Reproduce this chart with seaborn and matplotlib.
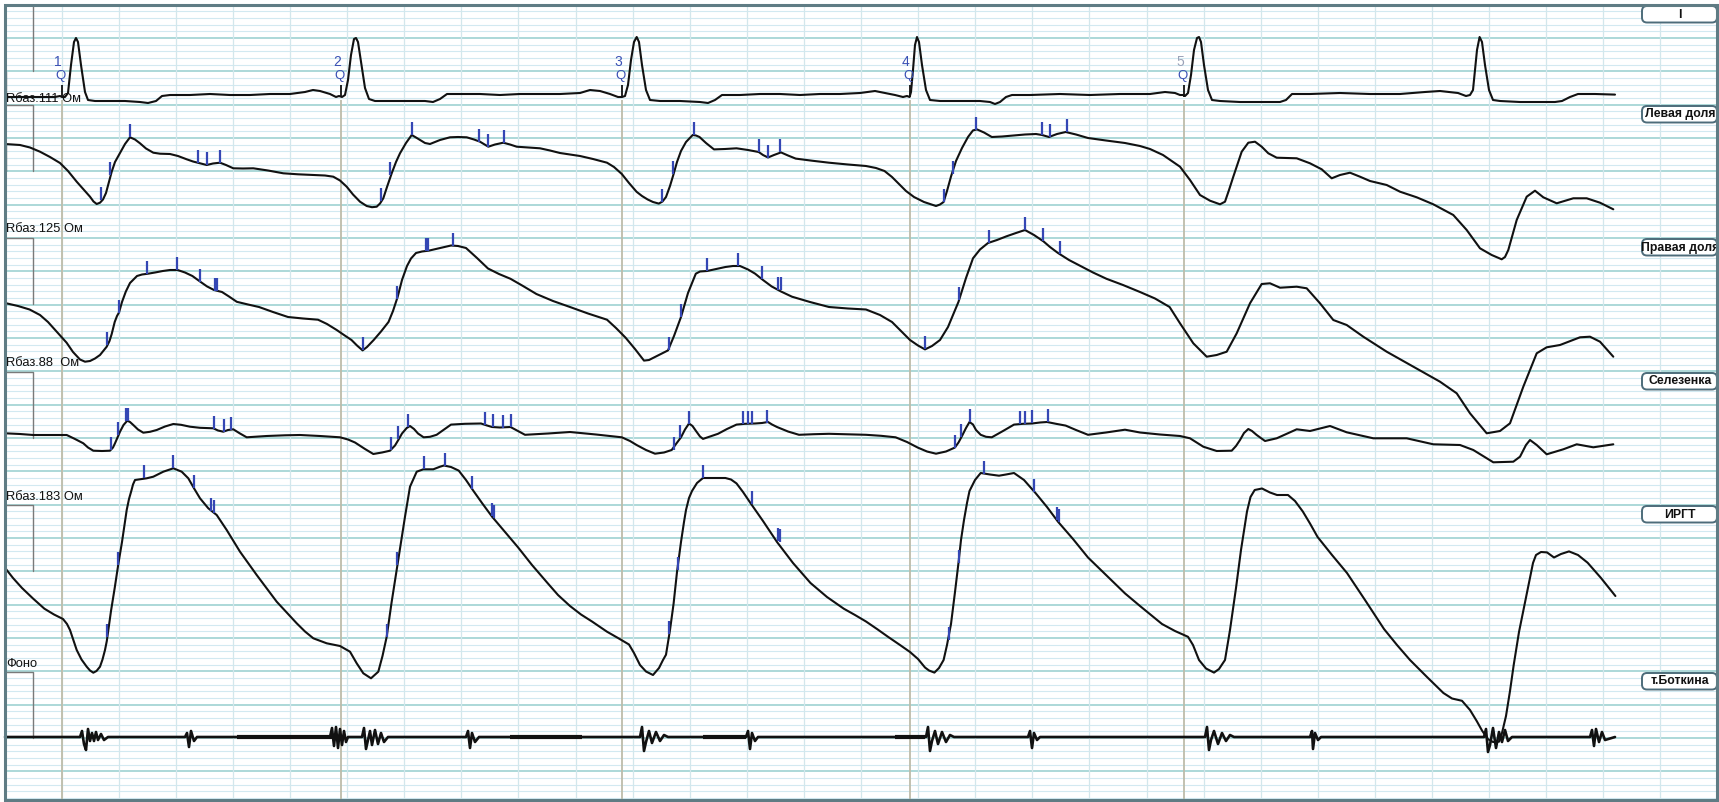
import matplotlib
matplotlib.use("Agg")
import matplotlib.pyplot as plt
import seaborn as sns
from matplotlib.patches import FancyBboxPatch, Rectangle

# ---------------- data (pixel units of the record) -------------
channel_names = ["I", "Левая доля", "Правая доля", "Селезенка", "ИРГТ", "т.Боткина"]
rbase_labels = ["Rбаз.111 Ом", "Rбаз.125 Ом", "Rбаз.88  Ом", "Rбаз.183 Ом", "Фоно"]
beat_numbers = ["1", "2", "3", "4", "5"]
q_positions = [61.7, 341.0, 621.8, 909.6, 1184.0]

ecg_x = [5, 20, 40, 55, 60, 62, 65, 68, 71, 74, 76, 78, 81, 85, 88, 95, 110, 125, 140, 148, 156, 162, 170, 190,
         210, 230, 250, 270, 290, 305, 313, 320, 330, 336, 339, 342, 345, 348, 351, 354, 356, 358, 361, 365, 369,
         375, 390, 410, 425, 433, 440, 447, 460, 480, 500, 520, 540, 560, 580, 590, 600, 610, 618, 622, 625, 628,
         631, 634, 636.7, 639, 642, 646, 650, 660, 680, 700, 708, 715, 722, 740, 760, 780, 800, 820, 840, 860, 875,
         885, 895, 903, 907, 909.6, 911, 913, 915, 917, 919, 922, 926, 930, 940, 960, 980, 990, 995, 1000, 1006,
         1012, 1030, 1060, 1090, 1120, 1150, 1165, 1175, 1180, 1183, 1185, 1188, 1191, 1194, 1197, 1199, 1201,
         1204, 1208, 1212, 1220, 1240, 1260, 1280, 1286, 1292, 1310, 1340, 1370, 1400, 1425, 1440, 1458, 1466,
         1470, 1473, 1475, 1477, 1479.6, 1482, 1485, 1489, 1493, 1500, 1520, 1540, 1555, 1562, 1570, 1578, 1595,
         1615]
ecg_y = [97, 97, 97, 97, 96, 97, 97, 93, 65, 42, 38, 42, 65, 92, 100, 101, 101, 101, 102, 103, 101, 96, 95, 95,
         94, 95, 95, 94, 94, 92, 90, 91, 94, 97, 96, 97, 95, 80, 55, 39, 38, 42, 62, 88, 99,
         101, 101, 101, 101, 102, 99, 94, 94, 94, 95, 94, 94, 94, 93, 90, 91, 94, 97, 97, 96, 85,
         60, 42, 37, 42, 65, 90, 100, 101, 101, 102, 103, 100, 95, 95, 94, 94, 95, 94, 94, 93, 91,
         93, 95, 97, 96, 97, 92, 70, 45, 37, 42, 65, 90, 100, 101, 101, 101, 102, 104, 102, 97,
         95, 95, 94, 95, 94, 94, 92, 93, 95, 95, 96, 93, 75, 50, 38, 37, 42,
         65, 90, 100, 101, 102, 102, 102, 100, 94, 94, 93, 94, 94, 92, 91, 93, 96,
         95, 90, 70, 50, 37, 42, 65, 90, 100, 101, 102, 102, 102, 101, 97, 94, 94,
         94.6]

left_pts = [(5, 144), (20, 145), (30, 147.5), (40, 151.7), (50, 157), (60, 163), (68, 171), (76.7, 181.7), (84, 190),
            (90, 196.7), (93.5, 201.5), (96.7, 204), (100, 202.7), (103, 199.5), (106, 193), (109, 182),
            (111.7, 171.7), (115, 162), (120, 153), (125, 144), (130, 137.3), (135, 139.5), (140, 143.3),
            (146, 148.5), (153.3, 152.7), (160, 153.7), (170, 154), (178, 156), (186.7, 159.3), (193, 161.5),
            (200, 163.3), (206.7, 165), (213, 163.5), (220, 162.7), (226, 165), (233.3, 168.3), (243, 168.5),
            (253.3, 168.3), (268, 170.5), (283.3, 173.3), (298, 174.3), (313.3, 175), (325, 175.5), (333.3, 176.7),
            (340, 180.5), (346.7, 186.7), (353, 194.5), (360, 201.7), (366.7, 206), (372, 207.2), (376.7, 206.7),
            (380, 203.5), (383.3, 198.3), (387, 187), (391.7, 173.3), (396, 162), (400, 153.3), (406, 143),
            (411.7, 135), (416, 137.5), (420, 140), (425, 143), (430, 144), (435, 142), (440, 140), (450, 137.3),
            (458, 137), (466.7, 137.3), (474, 139.5), (480, 141.7), (488.3, 146.7), (495, 144.5), (503.3, 142.7),
            (510, 144.5), (516.7, 146.7), (528, 147.5), (540, 148.3), (550, 150.5), (560, 153), (570, 154.5),
            (580, 156), (593, 159), (607, 162.7), (614, 167), (621.8, 174), (629, 183), (636.6, 191.8), (642, 196),
            (647.7, 199.5), (653, 202), (658.8, 203.6), (662.5, 201.5), (666, 197), (670, 186), (673.6, 174),
            (677, 162), (681, 151), (686, 142), (692.7, 135), (696, 135.5), (699.5, 137), (706, 143), (714, 149.4),
            (725, 149), (736.5, 148.3), (748, 150), (758.7, 152), (763, 155), (768, 157.5), (774, 155),
            (781, 152.4), (788, 155.5), (795.7, 158.6), (812, 160.7), (829, 162.7), (848, 164.5), (866, 166),
            (876, 168), (884.5, 171), (892, 177), (899, 184), (906, 191), (914, 197), (924, 202), (936, 206),
            (940, 204.5), (943.6, 202), (947, 191), (951, 176.5), (956, 161), (962, 148), (968, 137), (973, 130.4),
            (977, 129.4), (984, 132.5), (991.8, 137), (1002, 136.5), (1014, 135.5), (1025, 134.5), (1036, 134),
            (1042, 135), (1049, 137), (1057, 134), (1065.7, 132), (1076, 134.5), (1088, 138), (1106, 140.5),
            (1125, 143), (1140, 146), (1150, 149), (1163, 155), (1180, 166.7), (1190, 180), (1200, 195),
            (1210, 200.7), (1220, 204.3), (1225, 201.7), (1229, 190), (1233.3, 176.7), (1241.7, 151.7),
            (1248.3, 142.7), (1255, 141.7), (1261.7, 146.7), (1268.3, 153.3), (1276.7, 157.7), (1296.7, 158.3),
            (1310, 163.3), (1321.7, 169.3), (1331.7, 178.3), (1340, 175), (1350, 172.7), (1360, 176.7),
            (1370, 181), (1386.7, 185), (1400, 191.7), (1416.7, 197.3), (1433.3, 204.3), (1453.3, 215),
            (1466.7, 230), (1480, 248.3), (1491.7, 255), (1501.7, 259.3), (1505, 257), (1508.3, 250),
            (1516.7, 220), (1526.7, 196.7), (1535, 190.7), (1543.3, 197.3), (1556.7, 203.3), (1573.3, 198.3),
            (1586.7, 198.3), (1600, 202.7), (1613.3, 209.3)]

right_pts = [(5, 303), (18, 306), (29.6, 309.5), (40, 315), (48, 322), (57, 332), (66.6, 342.7), (73, 352),
             (80, 359.5), (85, 361.7), (90, 361), (95, 358.5), (100, 355), (104, 350), (106.7, 346.7),
             (109.5, 341), (111.7, 334), (114.7, 322), (117, 316), (119, 312.5), (122, 302), (125.8, 291.6),
             (130, 283), (137, 276), (142, 274.5), (148, 273.7), (155, 272.5), (162.8, 271), (170, 270),
             (177.6, 270), (185, 272.5), (192.4, 276), (200, 281.5), (207, 286.4), (214, 290), (222, 292),
             (229, 296.5), (236.8, 301.8), (248, 304.5), (259, 307), (273, 312), (288, 317), (303, 318.5),
             (318, 319.7), (327, 324), (336.7, 330), (344, 335), (351.5, 340), (357, 345.5), (362.6, 350.4),
             (367, 347), (373.7, 340), (381, 331.5), (388.5, 322), (393, 311), (397.7, 296.7), (402, 280),
             (407, 266), (411, 258.5), (416, 253), (422, 251.5), (429, 250.6), (440, 248), (451, 245.5),
             (458, 246), (466, 248), (477, 258), (488, 268.5), (499, 274), (510.5, 278.8), (523, 286),
             (536.4, 294), (553, 301), (570, 307), (588, 313.5), (607, 319.7), (616, 328), (625.5, 337.6),
             (635, 349), (644, 360.6), (649, 360), (655, 357), (661, 354), (668, 350.4), (674, 336), (681, 317),
             (688, 293), (695.8, 273.7), (700, 271.5), (707, 271), (716, 269), (725.4, 267), (733, 266), (740, 266),
             (748, 269.5), (755, 273.6), (763, 280), (771.6, 286.4), (781, 291.5), (792, 296.7), (810, 302),
             (829, 307), (848, 308.5), (866, 309.5), (880, 315), (892, 322), (901, 331), (910, 340), (918, 345.5),
             (925, 349.4), (932, 346), (940, 340), (948, 327), (958.5, 301.8), (966, 278), (973, 258.3),
             (980, 249.5), (988, 243), (997, 240), (1006.5, 236.3), (1016, 233), (1025, 230), (1034, 235),
             (1043.5, 241.4), (1050, 247), (1058, 253), (1069, 260), (1080.5, 266), (1093, 272.5),
             (1106.5, 278.8), (1123, 285), (1140, 292), (1155, 298.5), (1169.6, 307), (1180, 323.3),
             (1193.3, 343.3), (1206.7, 356.7), (1216.7, 355), (1226.7, 351.7), (1236.7, 333.3), (1250, 303.3),
             (1261.7, 284), (1270, 283.3), (1280, 287.7), (1296.7, 286.7), (1306.7, 288.3), (1320, 303.3),
             (1333.3, 320), (1346.7, 325), (1363.3, 336.7), (1386.7, 351.7), (1413.3, 366.7), (1440, 381.7),
             (1456.7, 393.3), (1470, 413.3), (1486.7, 433.3), (1500, 431), (1510, 423.3), (1523.3, 386.7),
             (1536.7, 353.3), (1546.7, 347.3), (1560, 345), (1580, 337.3), (1590, 336.7), (1600, 341.7),
             (1613.3, 356.7)]

spleen_pts = [(5, 433.3), (20, 434), (33.3, 435), (50, 435), (66.7, 435), (75, 439), (83.3, 443.3), (88, 447.5),
              (93.3, 450.7), (102, 451), (110, 450.7), (113, 447.5), (115, 443.3), (117.5, 437.5), (120, 431.7),
              (123.5, 425), (127.3, 420.7), (130, 422), (133.3, 425), (138, 429.5), (143.3, 432.7), (150, 431.8),
              (156.7, 430), (165, 426.5), (173.3, 424), (181, 424.8), (190, 426.7), (200, 427.8), (213.3, 428.3),
              (218, 430.5), (223.3, 431.7), (228, 430), (233.3, 429.3), (240, 433.5), (246.7, 437.3),
              (266.7, 436), (285, 435.3), (300, 435), (320, 436), (340, 437.3), (348, 439.5), (355, 442.5),
              (365, 449), (373.3, 454), (382, 452.5), (390, 450.7), (395, 445.5), (398.3, 440), (402, 433.5),
              (406.7, 428), (410, 426), (414, 429), (418, 433.5), (423.6, 437.3), (430, 436.8), (436.6, 434.8),
              (444, 429.5), (451, 424.6), (465, 423.8), (481, 423.5), (487, 425.5), (492, 427), (500, 427.5),
              (510.5, 427), (518, 431), (525, 434.8), (548, 433.5), (570, 432), (596, 434.5), (621.8, 437.3),
              (630, 441), (636.6, 445), (646, 450), (655, 453.7), (664, 452.5), (671.7, 450), (676, 444),
              (681, 437.3), (685, 429.5), (689, 423.5), (692.5, 426), (696, 431), (700, 436.5), (703, 438.9),
              (710, 436.5), (718, 433.8), (727, 429), (736.5, 424.6), (745, 423.8), (755, 423.5), (762, 423),
              (768, 422), (772, 424.5), (777, 427), (788, 431.5), (799, 434.8), (814, 434.2), (829, 433.8),
              (848, 434.3), (866, 434.8), (881, 435.8), (895.6, 437.3), (907, 442), (917.8, 447.6), (927, 451.5),
              (936, 453.7), (946, 451.5), (954.8, 447.6), (958.5, 442.5), (962, 436), (966, 428), (969.5, 422),
              (973, 424.5), (976, 430), (980.7, 434.8), (986, 436.8), (991.8, 437.3), (1003, 431), (1014, 424.6),
              (1023, 423.8), (1032, 423.5), (1040, 422.5), (1047, 422), (1056, 423.8), (1065.7, 425.6), (1076, 430),
              (1088, 434.8), (1106, 432.5), (1125, 429.7), (1140, 432.5), (1160, 434.5), (1180, 436),
              (1190, 438.3), (1203.3, 446.7), (1216.7, 451), (1231.7, 450.7), (1236, 446), (1240, 440),
              (1244, 433), (1248.3, 429), (1252, 431), (1256.7, 435), (1265, 441), (1276.7, 438.3),
              (1296.7, 429.3), (1310, 431), (1330, 426), (1346.7, 432.3), (1373.3, 438.3), (1406.7, 438.3),
              (1433.3, 444.3), (1460, 445), (1473.3, 450), (1493.3, 462.3), (1513.3, 461.7), (1520, 456.7),
              (1526, 445), (1530, 440), (1536.7, 445), (1546.7, 454.3), (1563.3, 449.3), (1576.7, 444.3),
              (1593.3, 447.3), (1613.3, 444.3)]

irgt_pts = [(5, 567.8), (13, 578), (22, 588), (33, 598.5), (44.4, 608.7), (54, 614.5), (63, 619), (67, 624),
            (70, 630), (73, 639), (76.7, 650), (81.5, 659.5), (86.7, 666.7), (90, 670.5), (93.3, 672.7),
            (96.5, 671), (100, 666.7), (102.5, 659.5), (105, 650), (106.8, 641), (108.3, 630), (111, 611),
            (114.7, 588), (118.5, 563), (122, 542), (124.5, 525), (126.7, 510), (129, 499), (131.3, 491),
            (133, 484.5), (135, 480), (140, 479.3), (146.7, 478.3), (153.3, 476.7), (163.3, 471.7), (173.3, 468.3),
            (181.7, 471.7), (188.3, 478.3), (194, 488.3), (200, 498.3), (208.3, 508.3), (216.7, 515),
            (226.7, 530), (240, 551.7), (256.7, 575), (276.7, 601.7), (296.7, 623.3), (305, 631.5),
            (313.3, 638.3), (326.7, 643.3), (340, 646), (350, 651.7), (356.7, 663.3), (363.3, 673.3), (371, 678.3),
            (378.3, 671.7), (382.5, 656), (386.7, 636.7), (391.5, 603), (396.7, 570), (401, 542), (405, 516.7),
            (410, 486.7), (416.7, 471.7), (423.3, 469.3), (433.3, 469.3), (440, 466.7), (444, 465.5), (451, 467),
            (458.7, 470.6), (466, 480), (473.5, 491), (482, 503), (492, 516.6), (505, 532), (518, 547.3),
            (532, 565), (547.5, 583), (558, 595), (570, 606), (581, 614.5), (592, 621.5), (600, 627),
            (607, 631.7), (618, 638), (629, 644.5), (634, 653), (640, 665), (646, 671.5), (653, 675), (659, 668),
            (663, 660), (666, 654.7), (670, 630), (673.6, 603.6), (677, 572), (681, 542), (684, 522), (686, 510),
            (689, 498), (692, 491), (697, 483), (703, 478), (714, 478), (725.4, 478), (731, 479.5),
            (736.5, 483.4), (743, 492), (751, 503.8), (763, 521), (777, 542), (793, 563), (810.5, 583),
            (827, 597), (843.8, 608.7), (855, 615), (866, 621.5), (877, 629), (888, 636.8), (900, 645),
            (910, 652), (918, 659), (925, 667.5), (929, 670.5), (934.4, 672.6), (939, 668), (943.6, 660),
            (947, 645), (951, 624), (955, 592), (958.5, 562.7), (961, 540), (964, 520), (967, 503), (969.5, 491),
            (975, 480), (980.7, 473), (990, 474.5), (999, 475.7), (1006, 474.5), (1014, 473), (1024, 480),
            (1036, 493.6), (1047, 507), (1058, 521.7), (1073, 539), (1088, 557.5), (1106, 575), (1125, 593.4),
            (1140, 606), (1151, 615), (1162, 624), (1175, 631), (1188, 636.8), (1193, 645), (1199, 660),
            (1206, 668.5), (1214, 672.6), (1219, 669), (1225, 660), (1230, 630), (1236, 588), (1241, 550),
            (1247, 511.5), (1250.5, 497), (1254.7, 490), (1262, 488.5), (1270, 492.5), (1277, 495), (1288, 495),
            (1295, 501), (1302.8, 511.5), (1310, 523.5), (1317.6, 537), (1332, 555), (1347, 573), (1365, 600),
            (1384, 629), (1397, 645), (1410, 660), (1427, 677), (1443.4, 693), (1452, 698.5), (1462, 700.8),
            (1470, 710), (1476.7, 721), (1482, 730.5), (1487.8, 739), (1493, 742), (1499, 741.7), (1502, 733),
            (1506, 716), (1510, 691), (1513.7, 665), (1519, 632), (1524.8, 603.6), (1530, 578), (1533, 563),
            (1536, 555), (1541, 552), (1547, 552.4), (1554, 557.5), (1561, 554), (1569, 551.4), (1578, 555),
            (1587.6, 562.7), (1601, 578), (1615.4, 596)]

fono_x = [5, 80, 82, 84, 86, 88, 90, 92, 94, 96, 98, 101, 104, 108, 185, 187, 189, 191, 194, 197,
          330, 332, 334, 336, 338, 340, 342, 344, 346, 348,
          362, 364, 366, 368, 370, 372, 375, 378, 381, 384, 388,
          466, 468, 470, 472, 475, 479,
          640, 642, 644, 646, 649, 652, 656, 660, 664, 668,
          746, 748, 750, 752, 755, 758,
          926, 928, 930, 932, 935, 938, 942, 946, 950, 954,
          1028, 1030, 1032, 1034, 1037, 1040,
          1205, 1207, 1209, 1211, 1214, 1218, 1222, 1226, 1230, 1234,
          1310, 1312, 1313, 1315, 1318, 1321,
          1484, 1486, 1488, 1490, 1493, 1496, 1499, 1502, 1505, 1508, 1512,
          1590, 1592, 1594, 1596, 1599, 1602, 1605, 1615]
fono_y = [737, 737, 731, 744, 750, 729, 741, 733, 741, 732, 740, 734, 740, 737, 737, 733, 747, 731, 741, 737,
          737, 728, 746, 727, 748, 729, 745, 731, 742, 737,
          737, 728, 749, 740, 731, 745, 730, 744, 733, 742, 737,
          737, 731, 748, 733, 742, 737,
          737, 727, 751, 742, 731, 743, 732, 741, 735, 737,
          737, 731, 749, 733, 741, 737,
          737, 727, 751, 741, 731, 744, 732, 742, 735, 737,
          737, 731, 748, 733, 740, 737,
          737, 727, 750, 740, 731, 744, 733, 741, 735, 737,
          737, 731, 749, 733, 740, 737,
          737, 729, 752, 745, 728, 748, 732, 742, 730, 741, 737,
          737, 730, 746, 729, 742, 732, 740, 737]
fono_noise_start = [237, 510, 703, 895]
fono_noise_end = [333, 582, 746, 925]

left_ticks_x = [100.7, 110, 130, 198, 207, 220, 380.8, 390, 411.7, 479, 488, 504, 661.7, 672.8, 694, 759.4, 768, 780,
                944.4, 953, 975.8, 1041.7, 1049.8, 1066.5]
left_ticks_y = [200, 175, 137, 163, 165, 162.7, 201, 175, 135, 142, 146.5, 142.7, 201.5, 174, 135, 152, 157.5,
                152.4, 202, 174, 130, 134.5, 137, 132]
right_ticks_x = [107.3, 119, 146.9, 176.8, 199.8, 214.5, 217, 362.6, 396.6, 425.5, 428, 453.2, 669, 681, 707, 737.6,
                 761.6, 778, 780.5, 925, 959, 988.8, 1025, 1042.8, 1060]
right_ticks_y = [345, 312.5, 273.7, 270, 281.5, 290.5, 290.5, 350.4, 299, 250.6, 250.6, 245.5, 350.4, 317, 271, 266,
                 279, 289.5, 289.5, 349.4, 300, 243, 230, 241, 254]
spleen_ticks_x = [111, 118.3, 126, 128.3, 214.3, 224.3, 231, 391.4, 397.7, 407.7, 484.6, 493, 503, 511.3, 673.6,
                  679.5, 689, 743, 747.6, 752.4, 766.8, 954.8, 961.4, 970.3, 1019.5, 1025, 1031.7, 1048]
spleen_ticks_y = [450, 435, 420.7, 420.7, 429, 431.7, 429.5, 450, 439, 427, 424.5, 427, 427.5, 427, 450, 438,
                  423.5, 424, 423.8, 423.6, 422.5, 447.6, 437, 422, 424, 423.7, 423.4, 422]
irgt_ticks_x = [107.3, 117.6, 144, 173.3, 194, 211, 213.5, 386.6, 397, 423.6, 445, 471.7, 491.5, 494, 669, 678.4, 703,
                752.4, 777.5, 780, 948.5, 958.5, 984.4, 1034.3, 1056.5, 1059]
irgt_ticks_y = [637, 565, 478.3, 468.3, 488.3, 511, 512.5, 637, 565, 469.3, 465.5, 488.5, 516, 517.5, 634.3, 570,
                478, 503.8, 541, 542, 640, 562.7, 474, 491.5, 519.5, 521.5]

# ---------------- figure ----------------
sns.set_style("white")
plt.rcParams["font.family"] = ["Liberation Sans", "DejaVu Sans"]

W, H = 1719, 802
fig = plt.figure(figsize=(W / 100, H / 100), dpi=100)
ax = fig.add_axes([0, 0, 1, 1])
ax.set_xlim(0, W)
ax.set_ylim(H, 0)
ax.axis("off")

left, right, top, bottom = 4.5, 1717, 4.5, 800
# grid
step_y = 100 / 15.0
k = 0
y = top
while y < bottom:
    thick = (k % 5 == 0)
    ax.hlines(y, left, right, colors="#a6d6d6" if thick else "#d2e9f1",
              linewidth=1.3 if thick else 0.8, zorder=1)
    k += 1
    y = top + k * step_y
x = left + 57.1
while x < right:
    ax.vlines(x, top, bottom, colors="#d3e7ec", linewidth=0.9, zorder=1)
    x += 57.1

# Q lines
for q in q_positions:
    ax.vlines(q, 100, bottom, colors="#bdbcaa", linewidth=1.3, zorder=2)
    ax.vlines(q, 85, 97, colors="#111111", linewidth=1.3, zorder=4)

# left calibration boxes
box_tops = [5, 105, 238, 372, 505, 672]
for t in box_tops:
    ax.plot([left, 33, 33], [t, t, t + 66], color="#7a7a7a", linewidth=1.0, zorder=2)
ax.vlines(5.5, 72, 97, colors="#111111", linewidth=1.6, zorder=4)
ax.vlines(5.5, 145, 172, colors="#111111", linewidth=1.6, zorder=4)

# traces
line_kw = dict(sort=False, estimator=None, color="#111111", linewidth=1.5, ax=ax, zorder=5, legend=False)
sns.lineplot(x=ecg_x, y=ecg_y, **line_kw)
for pts in (left_pts, right_pts, spleen_pts, irgt_pts):
    sns.lineplot(x=[p[0] for p in pts], y=[p[1] for p in pts], **line_kw)
fono_kw = dict(line_kw)
fono_kw["linewidth"] = 1.9
sns.lineplot(x=fono_x, y=fono_y, **fono_kw)
for a, b in zip(fono_noise_start, fono_noise_end):
    ax.hlines(737, a, b, colors="#111111", linewidth=3.0, zorder=5)

for line in ax.lines:
    line.set_solid_joinstyle("round")
    line.set_solid_capstyle("round")

# blue markers
tick_h = 13
for tx, ty in [(left_ticks_x, left_ticks_y), (right_ticks_x, right_ticks_y),
               (spleen_ticks_x, spleen_ticks_y), (irgt_ticks_x, irgt_ticks_y)]:
    ax.vlines(tx, [v - tick_h for v in ty], ty, colors="#3446b4", linewidth=1.6, zorder=6)

# beat labels
for q, lab in zip(q_positions, beat_numbers):
    col = "#9aa2b8" if lab == "5" else "#3a50b4"
    ax.text(q - 4, 62, lab, color=col, fontsize=10, ha="center", va="center", zorder=7)
    ax.text(q - 1.5, 76, "Q", color="#3a50b4", fontsize=9.5, ha="center", va="center", zorder=7)

# R base labels
label_y = [99, 229, 363, 497, 664]
for ly, txt in zip(label_y, rbase_labels):
    ax.text(6, ly, txt, color="#111111", fontsize=9.3, ha="left", va="center", zorder=8)

# right channel boxes
for t, name in zip(box_tops, channel_names):
    b = FancyBboxPatch((1642, t + 1), 75, 16.5, boxstyle="round,pad=0,rounding_size=5",
                       facecolor="white", edgecolor="#4d6c7a", linewidth=1.4, zorder=8)
    ax.add_patch(b)
    ax.text(1680, t + 9.5, name, color="#111111", fontsize=8.8, fontweight="bold",
            ha="center", va="center", zorder=9)

# outer frame
ax.add_patch(Rectangle((left, top), right - left, bottom - top, fill=False,
                       edgecolor="#5f7c84", linewidth=2.2, zorder=10))

fig.savefig("out.png", dpi=100)
